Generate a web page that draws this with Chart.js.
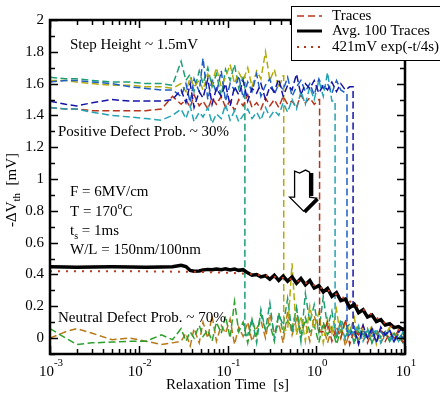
<!DOCTYPE html>
<html>
<head>
<meta charset="utf-8">
<script src="https://cdn.jsdelivr.net/npm/chart.js@4.4.1/dist/chart.umd.min.js"></script>
<style>
  html, body { margin: 0; padding: 0; background: #fff; }
  #wrap { width: 440px; height: 395px; position: relative; }
</style>
</head>
<body>
<div id="wrap"><canvas id="relaxChart"></canvas></div>
<script>
// relaxation time grid [s]
var relaxTime = [0.001, 0.0015, 0.002, 0.003, 0.005, 0.008, 0.012, 0.018, 0.024,
  0.03, 0.034, 0.038, 0.042, 0.048, 0.053, 0.06, 0.067, 0.075, 0.085, 0.095,
  0.107, 0.12, 0.134, 0.15, 0.169, 0.189, 0.213, 0.238, 0.268, 0.3,
  0.337, 0.378, 0.424, 0.476, 0.534, 0.599, 0.672, 0.754, 0.846, 0.949,
  1.07, 1.2, 1.34, 1.5, 1.69, 1.89, 2.13, 2.38, 2.68, 3.0,
  3.37, 3.78, 4.24, 4.76, 5.34, 5.99, 6.72, 7.54, 8.46, 9.49, 10];

// single traces, -dVth [mV]
var traceGreen = [1.64, 1.63, 1.63, 1.62, 1.61, 1.61, 1.60, 1.60, 1.59,
  1.74, 1.62, 1.66, 1.55, 1.68, 1.60, 1.70, 1.58, 1.66, 1.52, 1.69, 1.62, 1.72, 1.57, 1.64,
  0.02, 0.12, -0.03, 0.18, 0.05, 0.22, 0.0, 0.15, 0.08, 0.25, 0.03, 0.19, -0.02, 0.28, 0.1, 0.21,
  0.04, 0.26, 0.07, 0.17, -0.01, 0.12, 0.05, 0.09, -0.04, 0.07, 0.02, 0.06, -0.03, 0.05, 0.0, 0.04,
  -0.02, 0.03, 0.01, -0.03, 0.02];
var traceOlive = [1.62, 1.62, 1.61, 1.60, 1.59, 1.59, 1.58, 1.58, 1.57,
  1.60, 1.55, 1.64, 1.58, 1.62, 1.56, 1.66, 1.60, 1.70, 1.58, 1.64, 1.72, 1.60, 1.67, 1.62, 1.70,
  1.58, 1.68, 1.63, 1.80, 1.62, 1.69, 1.57, 1.65,
  0.05, 0.47, 0.02, 0.14, -0.02, 0.2, 0.06, 0.16, -0.03, 0.12, 0.03, 0.18, 0.0, 0.1, 0.04, 0.13,
  -0.02, 0.06, 0.01, 0.08, -0.04, 0.05, 0.02, 0.07, -0.01, 0.04, 0.0, 0.03];
var traceRed = [1.45, 1.44, 1.44, 1.43, 1.43, 1.43, 1.43, 1.44, 1.52,
  1.47, 1.50, 1.45, 1.53, 1.46, 1.49, 1.44, 1.51, 1.47, 1.52, 1.45, 1.49, 1.43, 1.50, 1.46, 1.53,
  1.45, 1.48, 1.44, 1.51, 1.46, 1.50, 1.45, 1.52, 1.47, 1.49, 1.45, 1.53, 1.48, 1.51, 1.47, 1.50,
  0.04, 0.1, -0.02, 0.07, 0.0, 0.12, -0.04, 0.05, 0.02, 0.08, -0.03, 0.04, 0.01, 0.06, -0.02, 0.03,
  0.0, 0.05, -0.03, 0.02];
var traceTeal = [1.45, 1.44, 1.44, 1.42, 1.40, 1.39, 1.38, 1.37, 1.40,
  1.44, 1.38, 1.46, 1.36, 1.42, 1.39, 1.45, 1.35, 1.41, 1.38, 1.47, 1.37, 1.43, 1.36, 1.40, 1.44,
  1.38, 1.42, 1.37, 1.45, 1.39, 1.43, 1.40, 1.48, 1.42, 1.50, 1.44, 1.55, 1.47, 1.58, 1.50, 1.62,
  1.52, 1.67, 1.49,
  0.03, 0.09, -0.01, 0.06, 0.02, 0.08, -0.02, 0.05, 0.01, 0.06, -0.03, 0.04, 0.0, 0.03, -0.02, 0.04, 0.01];
var traceBlue = [1.61, 1.62, 1.62, 1.61, 1.60, 1.58, 1.57, 1.56, 1.56,
  1.52, 1.60, 1.48, 1.63, 1.55, 1.76, 1.50, 1.62, 1.54, 1.68, 1.49, 1.60, 1.56, 1.65, 1.51, 1.61,
  1.55, 1.66, 1.52, 1.59, 1.63, 1.53, 1.60, 1.56, 1.64, 1.52, 1.58, 1.62, 1.55, 1.60, 1.53, 1.63,
  1.57, 1.60, 1.54, 1.62, 1.56, 1.54,
  0.02, 0.07, -0.03, 0.05, 0.0, 0.06, -0.02, 0.04, 0.01, 0.05, -0.03, 0.03, 0.0, 0.02];
var traceNavy = [1.49, 1.47, 1.46, 1.48, 1.50, 1.49, 1.49, 1.49, 1.50,
  1.56, 1.48, 1.60, 1.45, 1.55, 1.51, 1.63, 1.47, 1.57, 1.52, 1.60, 1.46, 1.58, 1.53, 1.62, 1.49,
  1.57, 1.54, 1.60, 1.50, 1.58, 1.55, 1.63, 1.52, 1.59, 1.56, 1.66, 1.53, 1.60, 1.57, 1.62, 1.54,
  1.59, 1.56, 1.61, 1.55, 1.60, 1.56, 1.58,
  0.05, -0.04, 0.08, 0.0, 0.06, -0.03, 0.07, 0.02, 0.05, -0.02, 0.04, 0.06, 0.01];
var neutralGreen = [0.06, 0.0, -0.04, -0.03, -0.025, -0.02, -0.02, 0.02, -0.01,
  0.06, -0.02, 0.04, 0.0, 0.08, 0.01, 0.05, -0.02, 0.1, 0.03, 0.14, 0.0, 0.23, 0.04, 0.1, -0.03,
  0.12, 0.02, 0.15, 0.05, 0.09, -0.02, 0.16, 0.03, 0.11, 0.06, 0.19, 0.0, 0.13, 0.04, 0.08, -0.03,
  0.1, 0.02, 0.07, -0.04, 0.05, 0.01, 0.06, -0.02, 0.04, 0.0, 0.05, -0.03, 0.03, 0.01, 0.04, -0.02,
  0.02, 0.0, 0.03, -0.01];
var neutralBrown = [0.0, 0.04, 0.06, 0.03, -0.01, 0.0, -0.02, -0.04, -0.03,
  -0.02, 0.03, -0.05, 0.06, -0.03, 0.1, 0.0, 0.14, -0.02, 0.08, 0.03, 0.12, -0.04, 0.07, 0.01, 0.1,
  -0.02, 0.06, 0.11, 0.0, 0.15, 0.03, 0.09, -0.03, 0.17, 0.02, 0.12, 0.05, 0.1, -0.02, 0.14, 0.04,
  0.08, -0.03, 0.06, 0.01, 0.09, -0.05, 0.04, 0.0, 0.05, -0.02, 0.03, 0.01, 0.04, -0.03, 0.02, 0.0,
  0.03, -0.02, 0.01, 0.02];
// time where each positive trace falls back to zero (0 = never)
var dropTimes = { green: 0.157, olive: 0.43, red: 1.09, teal: 1.63, blue: 2.22, navy: 2.6 };

// average of 100 traces
var avgTraces = [0.448, 0.447, 0.446, 0.447, 0.448, 0.447, 0.446, 0.447, 0.449,
  0.458, 0.45, 0.425, 0.42, 0.422, 0.428, 0.432, 0.43, 0.434, 0.43, 0.436, 0.428, 0.434, 0.426, 0.43,
  0.41, 0.395, 0.40, 0.385, 0.392, 0.37, 0.395, 0.362, 0.39, 0.358, 0.385, 0.345, 0.375, 0.335, 0.362,
  0.315, 0.33, 0.29, 0.312, 0.262, 0.285, 0.235, 0.245, 0.192, 0.212, 0.16, 0.178, 0.132, 0.145, 0.104,
  0.116, 0.082, 0.09, 0.066, 0.072, 0.054, 0.058];

// 421mV exp(-t/4s)
var expTime = [0.001, 0.01, 0.05, 0.1, 0.2, 0.3, 0.5, 0.7, 1, 1.5, 2, 2.5, 3, 4, 5, 6, 7, 8, 9, 10];
var expValues = [0.421, 0.42, 0.416, 0.411, 0.401, 0.39, 0.372, 0.354, 0.328, 0.289, 0.255, 0.225,
  0.199, 0.155, 0.121, 0.094, 0.073, 0.057, 0.044, 0.035];

var yTickValues = [0, 0.2, 0.4, 0.6, 0.8, 1, 1.2, 1.4, 1.6, 1.8, 2];
var yTickLabels = ['0', '0.2', '0.4', '0.6', '0.8', '1', '1.2', '1.4', '1.6', '1.8', '2'];
var xDecades = [-3, -2, -1, 0, 1];

var serif = "'Liberation Serif', 'DejaVu Serif', serif";

function buildTrace(vals, drop) {
  var pts = [];
  for (var i = 0; i < relaxTime.length; i++) {
    if (drop && i > 0 && relaxTime[i] > drop && relaxTime[i - 1] < drop) {
      pts.push({ x: drop, y: vals[i - 1] });
      pts.push({ x: drop, y: vals[i] });
    }
    pts.push({ x: relaxTime[i], y: vals[i] });
  }
  return pts;
}

function dashed(label, vals, drop, color) {
  return {
    label: label,
    data: buildTrace(vals, drop),
    borderColor: color,
    borderWidth: 1.5,
    borderDash: [7, 3.5],
    pointRadius: 0,
    tension: 0
  };
}

// frame, inward ticks, labels, annotations and legend
var decor = {
  id: 'decor',
  afterDraw: function (chart) {
    var ctx = chart.ctx;
    var a = chart.chartArea;
    var xs = chart.scales.x, ys = chart.scales.y;
    ctx.save();
    ctx.strokeStyle = '#000';
    ctx.fillStyle = '#000';

    // y ticks both sides
    ctx.lineWidth = 1.5;
    for (var k = -1; k <= 20; k++) {
      var v = k / 10;
      if (v < -0.1) continue;
      var py = Math.round(ys.getPixelForValue(v)) + 0.5;
      var len = (k % 2 === 0) ? 8 : 5;
      ctx.beginPath();
      ctx.moveTo(a.left, py); ctx.lineTo(a.left + len, py);
      ctx.moveTo(a.right, py); ctx.lineTo(a.right - len, py);
      ctx.stroke();
    }
    // x ticks top and bottom
    for (var d = 0; d < xDecades.length; d++) {
      var e = xDecades[d];
      for (var m = 1; m <= 9; m++) {
        var t = m * Math.pow(10, e);
        if (t > 10.0001) break;
        var px = Math.round(xs.getPixelForValue(t)) + 0.5;
        var l2 = m === 1 ? 8 : 5;
        ctx.beginPath();
        ctx.moveTo(px, a.bottom); ctx.lineTo(px, a.bottom - l2);
        ctx.moveTo(px, a.top); ctx.lineTo(px, a.top + l2);
        ctx.stroke();
      }
    }
    // frame
    ctx.lineWidth = 2.5;
    ctx.strokeRect(a.left, a.top, a.right - a.left, a.bottom - a.top);

    // x tick labels 10^n
    ctx.textBaseline = 'alphabetic';
    ctx.textAlign = 'left';
    for (var j = 0; j < xDecades.length; j++) {
      var cx = xs.getPixelForValue(Math.pow(10, xDecades[j]));
      ctx.font = '15px ' + serif;
      var w1 = ctx.measureText('10').width;
      ctx.font = '11px ' + serif;
      var sup = String(xDecades[j]);
      var w2 = ctx.measureText(sup).width;
      var x0 = cx - (w1 + w2) / 2 + 1;
      ctx.font = '15px ' + serif;
      ctx.fillText('10', x0, 376);
      ctx.font = '11px ' + serif;
      ctx.fillText(sup, x0 + w1, 366);
    }

    // y title  -ΔV_th  [mV]
    ctx.save();
    ctx.translate(16, 190);
    ctx.rotate(-Math.PI / 2);
    ctx.font = '15px ' + serif;
    var p1 = '-\u0394V', p3 = '  [mV]';
    var wa = ctx.measureText(p1).width, wc = ctx.measureText(p3).width;
    ctx.font = '11px ' + serif;
    var wb = ctx.measureText('th').width;
    var sx = -(wa + wb + wc) / 2;
    ctx.font = '15px ' + serif;
    ctx.fillText(p1, sx, 0);
    ctx.font = '11px ' + serif;
    ctx.fillText('th', sx + wa, 4);
    ctx.font = '15px ' + serif;
    ctx.fillText(p3, sx + wa + wb, 0);
    ctx.restore();

    // annotations
    ctx.font = '15px ' + serif;
    ctx.textBaseline = 'middle';
    ctx.fillText('Step Height ~ 1.5mV', 70, 45);
    ctx.fillText('Positive Defect Prob. ~ 30%', 58, 132);
    ctx.fillText('Neutral Defect Prob. ~ 70%', 58, 318);
    ctx.fillText('F = 6MV/cm', 70, 192);
    var tw = ctx.measureText('T = 170').width;
    ctx.fillText('T = 170', 70, 212);
    ctx.font = '10px ' + serif;
    ctx.fillText('o', 70 + tw, 206);
    var ow = ctx.measureText('o').width;
    ctx.font = '15px ' + serif;
    ctx.fillText('C', 70 + tw + ow, 212);
    var tsw = ctx.measureText('t').width;
    ctx.fillText('t', 70, 231);
    ctx.font = '10px ' + serif;
    ctx.fillText('s', 70 + tsw, 236);
    var sw = ctx.measureText('s').width;
    ctx.font = '15px ' + serif;
    ctx.fillText(' = 1ms', 70 + tsw + sw, 231);
    ctx.fillText('W/L = 150nm/100nm', 70, 250);

    // hollow arrow pointing down
    var ax = xs.getPixelForValue(0.72), ay = ys.getPixelForValue(1.05);
    ctx.lineWidth = 1.3;
    ctx.fillStyle = '#fff';
    ctx.beginPath();
    ctx.moveTo(ax - 9, ay);
    ctx.lineTo(ax - 4, ay + 2);
    ctx.lineTo(ax + 2, ay - 1);
    ctx.lineTo(ax + 6, ay + 1);
    ctx.lineTo(ax + 6, ay + 26);
    ctx.lineTo(ax + 13, ay + 27);
    ctx.lineTo(ax, ay + 40);
    ctx.lineTo(ax - 14, ay + 26);
    ctx.lineTo(ax - 9, ay + 26);
    ctx.closePath();
    ctx.fill();
    ctx.stroke();
    ctx.lineWidth = 3.5;
    ctx.beginPath();
    ctx.moveTo(ax + 8, ay + 2);
    ctx.lineTo(ax + 8, ay + 25);
    ctx.moveTo(ax + 14, ay + 28);
    ctx.lineTo(ax + 1, ay + 41);
    ctx.stroke();

    // legend
    ctx.fillStyle = '#fff';
    ctx.fillRect(291, 6, 160, 54);
    ctx.lineWidth = 1;
    ctx.strokeStyle = '#000';
    ctx.strokeRect(291.5, 6.5, 160, 54);
    var rows = [
      { y: 16, text: 'Traces', color: '#b5341a', width: 1.5, dash: [7, 4] },
      { y: 31, text: 'Avg. 100 Traces', color: '#000', width: 3, dash: [] },
      { y: 47, text: '421mV exp(-t/4s)', color: '#b5341a', width: 1.8, dash: [2, 5] }
    ];
    for (var r = 0; r < rows.length; r++) {
      ctx.strokeStyle = rows[r].color;
      ctx.lineWidth = rows[r].width;
      ctx.setLineDash(rows[r].dash);
      ctx.beginPath();
      ctx.moveTo(297, rows[r].y);
      ctx.lineTo(322, rows[r].y);
      ctx.stroke();
      ctx.setLineDash([]);
      ctx.fillStyle = '#000';
      ctx.font = '15px ' + serif;
      ctx.fillText(rows[r].text, 332, rows[r].y);
    }
    ctx.restore();
  }
};

var ctx = document.getElementById('relaxChart').getContext('2d');
var relaxChart = new Chart(ctx, {
  type: 'line',
  data: {
    datasets: [
      {
        label: '421mV exp(-t/4s)',
        data: expTime.map(function (t, i) { return { x: t, y: expValues[i] }; }),
        borderColor: '#c0391c',
        borderWidth: 2,
        borderDash: [2, 6],
        pointRadius: 0
      },
      {
        label: 'Avg. 100 Traces',
        data: relaxTime.map(function (t, i) { return { x: t, y: avgTraces[i] }; }),
        borderColor: '#000',
        borderWidth: 3.5,
        pointRadius: 0
      },
      dashed('navy', traceNavy, dropTimes.navy, '#1414a6'),
      dashed('blue', traceBlue, dropTimes.blue, '#1f5fc4'),
      dashed('teal', traceTeal, dropTimes.teal, '#25a3b6'),
      dashed('red', traceRed, dropTimes.red, '#b5341a'),
      dashed('olive', traceOlive, dropTimes.olive, '#b3ab0c'),
      dashed('green', traceGreen, dropTimes.green, '#1c9e70'),
      dashed('neutral green', neutralGreen, 0, '#2ca02c'),
      dashed('neutral brown', neutralBrown, 0, '#b87818')
    ]
  },
  options: {
    responsive: true,
    maintainAspectRatio: false,
    animation: false,
    layout: { padding: { top: 20, right: 35, left: 0, bottom: 0 } },
    plugins: { legend: { display: false }, tooltip: { enabled: false } },
    scales: {
      x: {
        type: 'logarithmic',
        min: 0.001,
        max: 10,
        grid: { display: false, drawTicks: false },
        border: { display: false },
        ticks: { display: false },
        title: {
          display: true,
          text: 'Relaxation Time  [s]',
          color: '#000',
          font: { family: serif, size: 15 },
          padding: { top: 0, bottom: 1 }
        },
        afterFit: function (s) { s.height = 41; }
      },
      y: {
        min: -0.1,
        max: 2,
        grid: { display: false, drawTicks: false },
        border: { display: false },
        afterBuildTicks: function (s) {
          s.ticks = yTickValues.map(function (v) { return { value: v }; });
        },
        ticks: {
          color: '#000',
          padding: 6,
          font: { family: serif, size: 15 },
          callback: function (v, i) { return yTickLabels[i]; }
        },
        afterFit: function (s) { s.width = 50; }
      }
    }
  },
  plugins: [decor]
});
</script>
</body>
</html>
